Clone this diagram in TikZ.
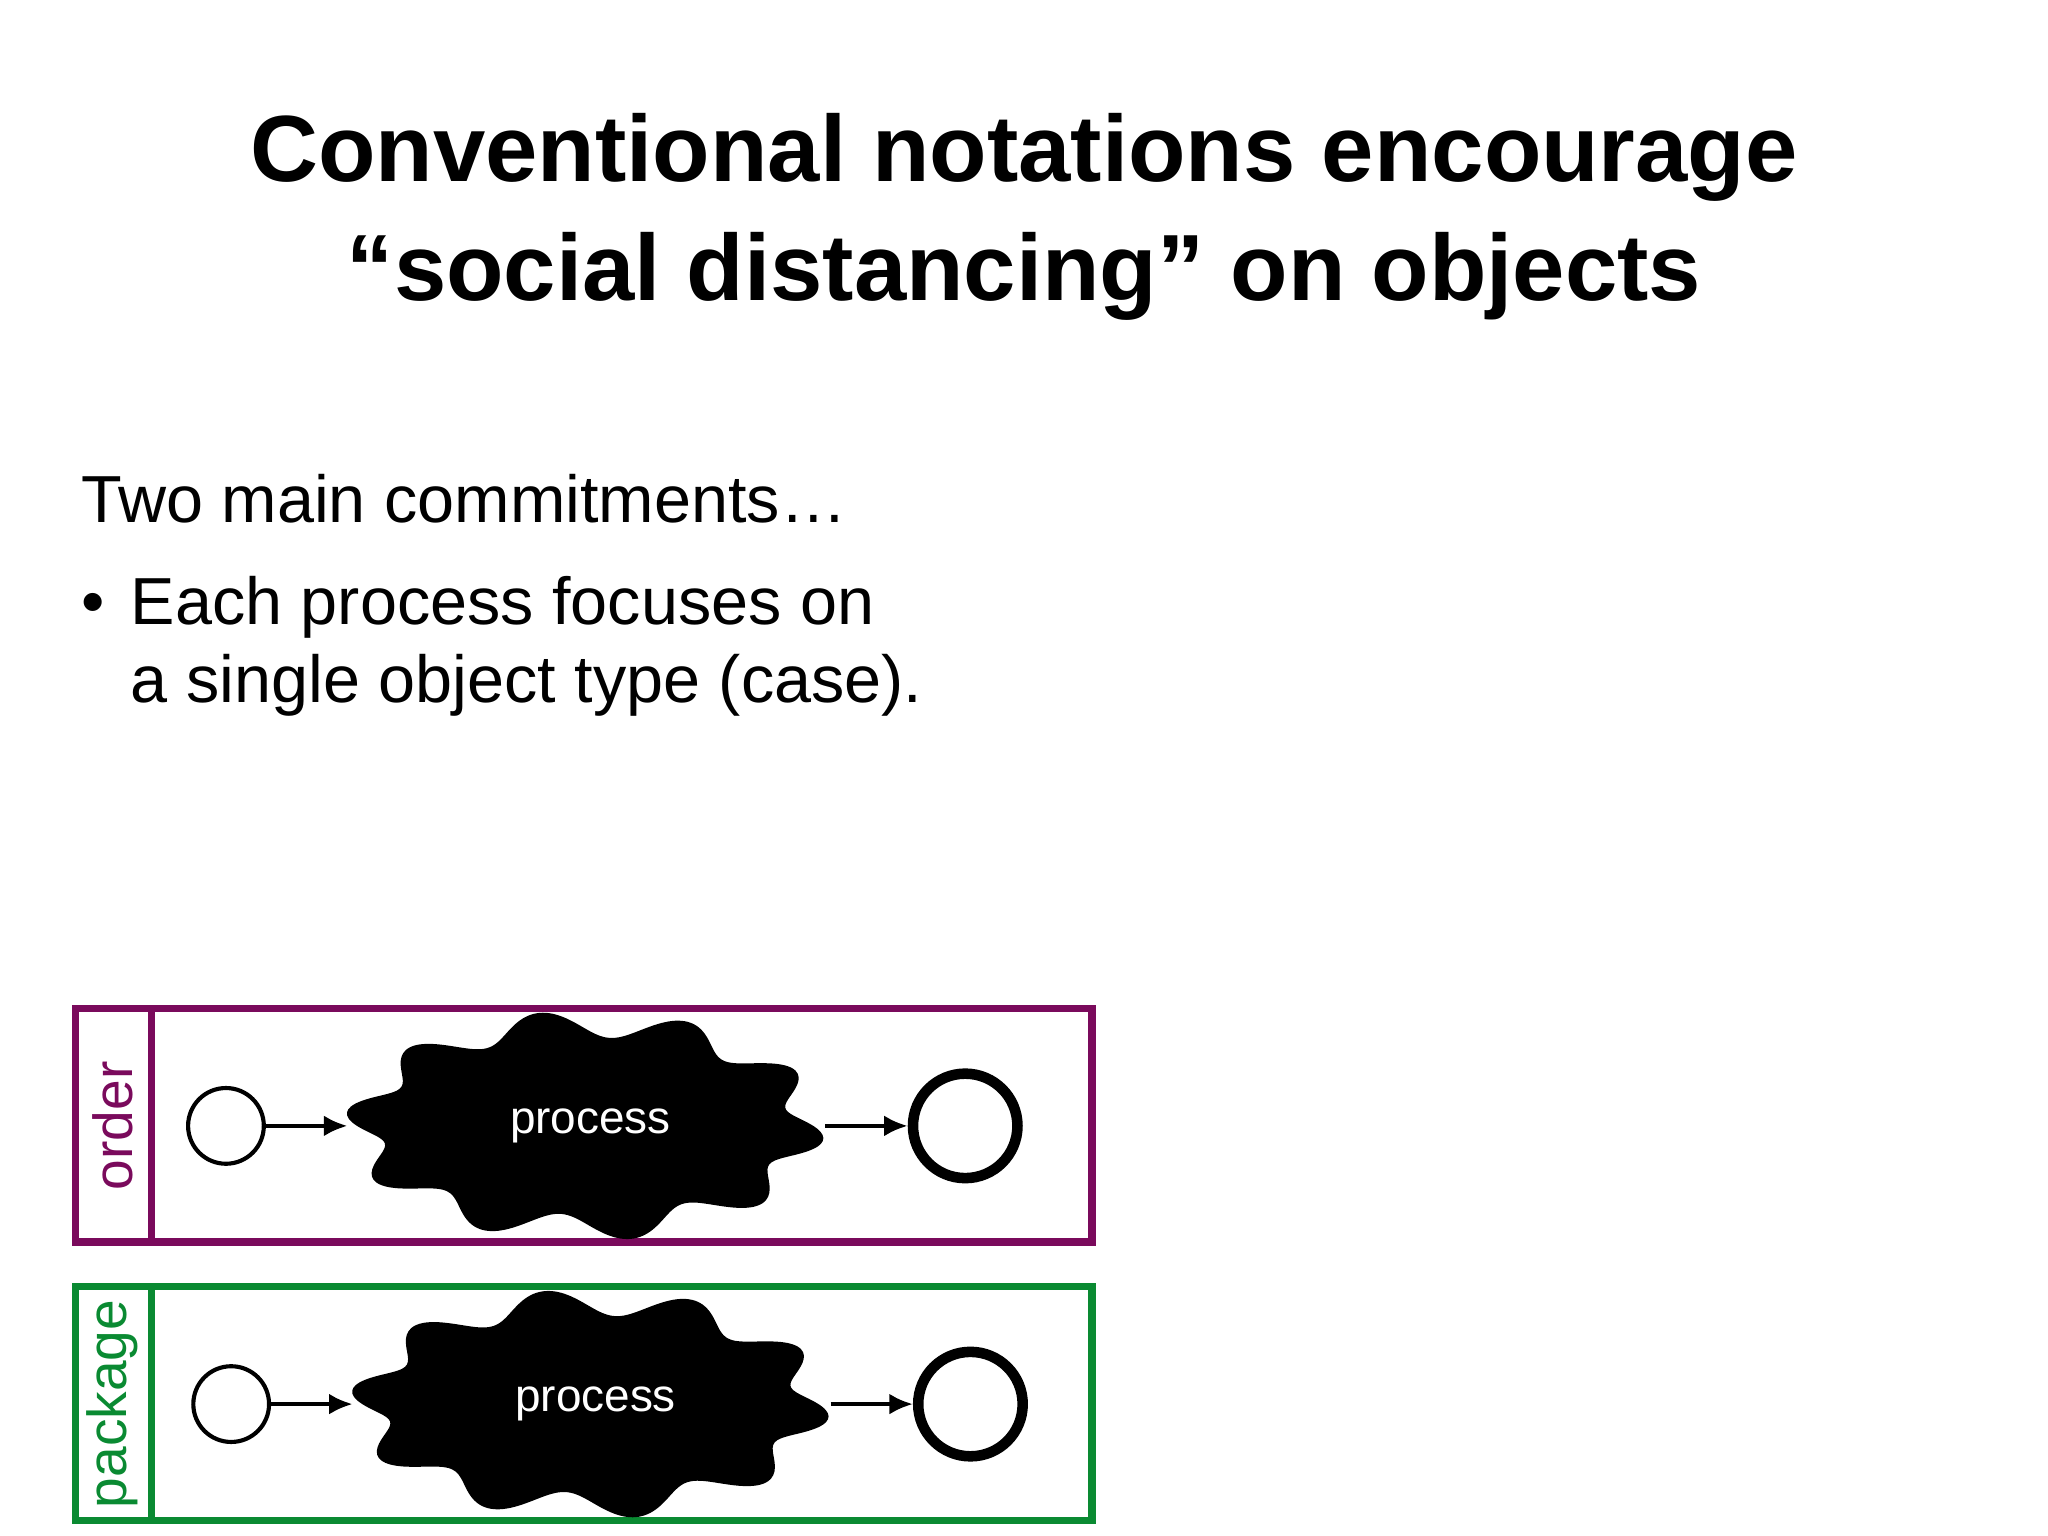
\documentclass[tikz,border=0pt]{standalone}
\usepackage{fontspec}
\setmainfont{Liberation Sans}
\usetikzlibrary{arrows.meta}
\definecolor{lanepurple}{HTML}{7A0A5C}
\definecolor{lanegreen}{HTML}{0A8A32}
\begin{document}
\begin{tikzpicture}[x=0.02cm,y=-0.02cm,
  startev/.style={circle,draw,line width=1.8pt,minimum size=1.16cm,inner sep=0},
  endev/.style={circle,draw,line width=4.6pt,minimum size=1.6cm,inner sep=0},
  flow/.style={-{Latex[length=0.36cm,width=0.32cm]},line width=1.8pt},
  lanelbl/.style={rotate=90,font=\fontsize{24}{28}\selectfont}]
\useasboundingbox (0,0) rectangle (1568,1176);
\node[font=\fontsize{41}{52}\selectfont\bfseries,align=center] (title) at (784,166)
  {Conventional notations encourage\\“social distancing” on objects};
\node[anchor=base west,font=\fontsize{29}{34}\selectfont] (intro) at (56,400) {Two main commitments…};
\node[anchor=base west,font=\fontsize{29}{34}\selectfont] (b1) at (56,478) {•};
\node[anchor=base west,font=\fontsize{29}{34}\selectfont] (b1t) at (94,478) {Each process focuses on};
\node[anchor=base west,font=\fontsize{29}{34}\selectfont] (b1u) at (94,538) {a single object type (case).};
\foreach \yy/\dx/\col/\lbl/\nm in {0/0/lanepurple/order/o, 213/4/lanegreen/package/p}{
 \begin{scope}[yshift={-\yy*0.02cm}]
  \draw[\col,line width=3.2pt] (58,772) rectangle (836,951);
  \draw[\col,line width=3.2pt] (116,772) -- (116,951);
  \node[lanelbl,text=\col] (lane\nm) at (86,862) {\lbl};
  \node[startev] (s\nm) at (173+\dx,862) {};
  \node[endev] (e\nm) at (739+\dx,862) {};
  \fill plot[domain=0:360,samples=240,smooth,variable=\t]
    ({448+\dx+170*cos(\t)*(1+0.08*sin(10*\t+20))},{862+78*sin(\t)*(1+0.13*sin(10*\t+20))});
  \node[text=white,font=\fontsize{20}{24}\selectfont] (proc\nm) at (452+\dx,862) {process};
  \coordinate (bl\nm) at (266+\dx,862);
  \coordinate (br\nm) at (632+\dx,862);
  \draw[flow] (s\nm) -- (bl\nm);
  \draw[flow] (br\nm) -- (e\nm);
 \end{scope}}
\end{tikzpicture}
\end{document}
